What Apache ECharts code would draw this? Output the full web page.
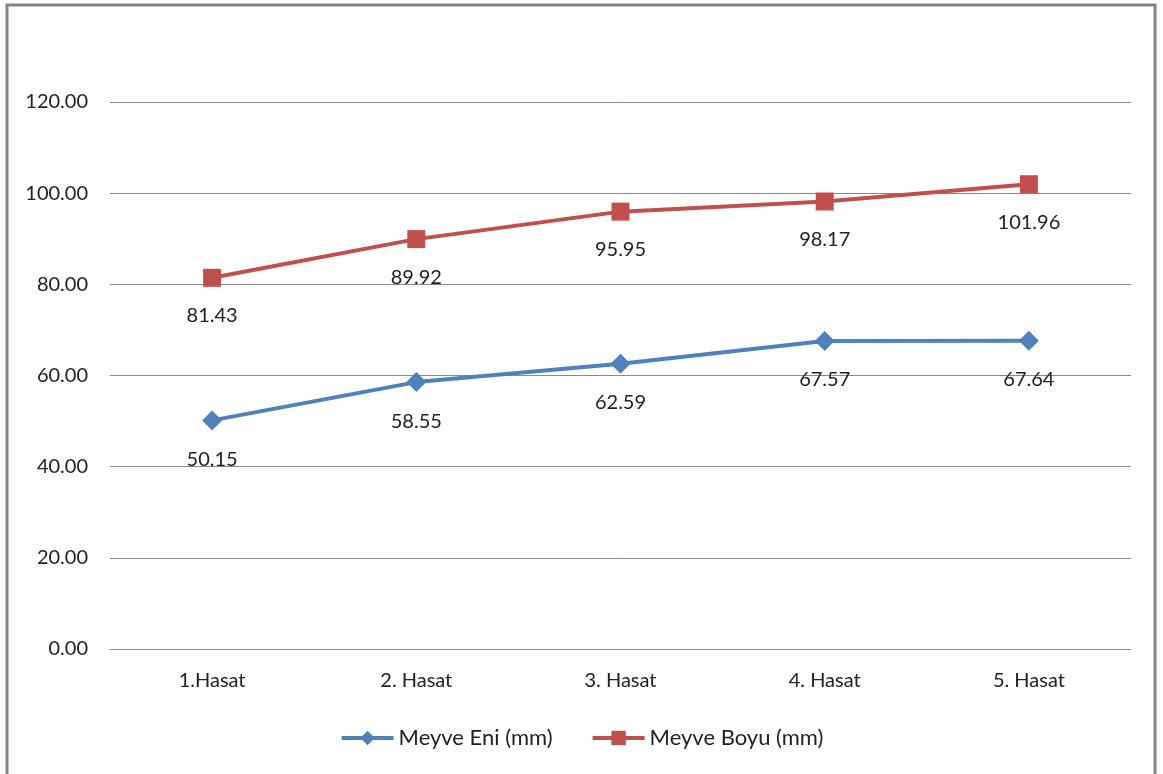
<!DOCTYPE html>
<html><head><meta charset="utf-8">
<script src="https://cdn.jsdelivr.net/npm/echarts@6/dist/echarts.min.js"></script>
<style>html,body{margin:0;padding:0;background:#fff}#c{width:1163px;height:774px}</style>
</head><body><div id="c"></div>
<script>
const categories = ['1.Hasat', '2. Hasat', '3. Hasat', '4. Hasat', '5. Hasat'];
const meyveEni = [50.15, 58.55, 62.59, 67.57, 67.64];
const meyveBoyu = [81.43, 89.92, 95.95, 98.17, 101.96];
const seriesNames = ['Meyve Eni (mm)', 'Meyve Boyu (mm)'];
const FONT = 'Lato, "Open Sans", sans-serif';
const chart = echarts.init(document.getElementById('c'));
const lbl = {show: true, position: 'bottom', distance: 19, fontSize: 20, color: '#222', fontFamily: FONT,
  formatter: p => p.value.toFixed(2)};
chart.setOption({
  animation: false,
  graphic: [{type: 'rect', shape: {x: 7, y: 5, width: 1148, height: 790},
    style: {fill: 'none', stroke: '#868686', lineWidth: 3}, silent: true}],
  grid: {left: 110, right: 32, top: 102, bottom: 125},
  legend: {bottom: 20, left: 'center', itemWidth: 52, itemHeight: 18, itemGap: 38,
    textStyle: {fontSize: 22, color: '#222', fontFamily: FONT},
    lineStyle: {width: 4},
    data: seriesNames},
  xAxis: {type: 'category', data: categories, boundaryGap: true,
    axisLine: {lineStyle: {color: '#888', width: 1}}, axisTick: {show: false},
    axisLabel: {fontSize: 20, color: '#222', fontFamily: FONT, margin: 22}},
  yAxis: {type: 'value', min: 0, max: 120, interval: 20,
    axisLine: {show: false}, axisTick: {show: false},
    splitLine: {lineStyle: {color: '#888', width: 1}},
    axisLabel: {fontSize: 20, color: '#222', fontFamily: FONT, margin: 22, formatter: v => v.toFixed(2)}},
  series: [
    {name: seriesNames[0], type: 'line', data: meyveEni, symbol: 'diamond', symbolSize: 20,
      itemStyle: {color: '#4F81BD'}, lineStyle: {width: 4, color: '#4F81BD'}, label: lbl},
    {name: seriesNames[1], type: 'line', data: meyveBoyu, symbol: 'rect', symbolSize: 18,
      itemStyle: {color: '#C0504D'}, lineStyle: {width: 4, color: '#C0504D'}, label: lbl}
  ]
});
</script></body></html>
